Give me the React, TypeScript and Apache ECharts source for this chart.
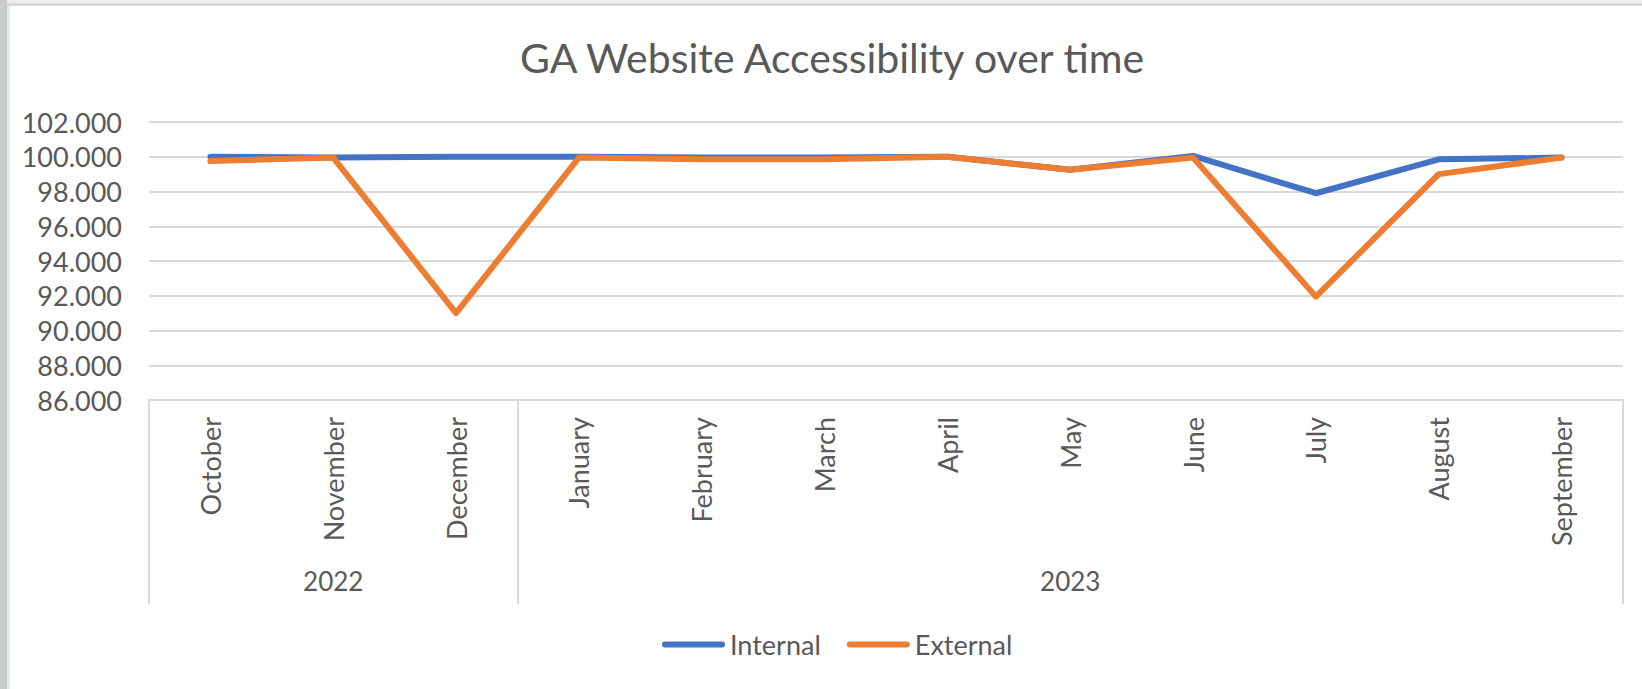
import React, { useEffect, useRef } from "react";
import * as echarts from "echarts";

const months = ["October", "November", "December", "January", "February", "March", "April", "May", "June", "July", "August", "September"];
const yearLabels = ["", "2022", "", "", "", "", "", "2023", "", "", "", ""];
const groupStartIndex = [0, 3];
const internal = [100.0, 99.95, 100.0, 100.0, 99.95, 99.95, 100.0, 99.25, 100.05, 97.9, 99.85, 99.95];
const external = [99.75, 99.95, 91.0, 99.95, 99.85, 99.85, 100.0, 99.25, 99.95, 91.95, 99.0, 99.95];
const seriesNames = ["Internal", "External"];
const titleText = "GA Website Accessibility over time";

const FONT = "Lato, 'Open Sans', sans-serif";
const TXT = "#595959";
const GRID = "#d9d9d9";

export default function App() {
  const ref = useRef<HTMLDivElement>(null);
  useEffect(() => {
    document.body.style.margin = "0";
    const chart = echarts.init(ref.current!, null, { renderer: "svg" });
    chart.setOption({
      animation: false,
      backgroundColor: "#ffffff",
      textStyle: { fontFamily: FONT },
      graphic: [
        {
          type: "text",
          x: 832,
          y: 37,
          style: {
            text: titleText,
            fontFamily: FONT,
            fontSize: 41,
            fill: TXT,
            textAlign: "center",
            textVerticalAlign: "top",
          },
        },
      ],
      grid: { left: 149, right: 19, top: 122, bottom: 289, containLabel: false },
      legend: {
        left: 657,
        top: 626,
        itemWidth: 63,
        itemHeight: 7,
        itemGap: 26,
        icon: "path://M3,0 L60,0 A3,3 0 0 1 60,6 L3,6 A3,3 0 0 1 3,0 Z",
        textStyle: { fontFamily: FONT, fontSize: 27, color: TXT },
        data: seriesNames,
      },
      xAxis: [
        {
          type: "category",
          data: months,
          boundaryGap: true,
          position: "bottom",
          axisLine: { show: true, lineStyle: { color: GRID, width: 2 } },
          axisTick: { show: false },
          axisLabel: {
            interval: 0,
            rotate: 90,
            margin: 17,
            fontFamily: FONT,
            fontSize: 27,
            color: TXT,
          },
          splitLine: { show: false },
        },
        {
          type: "category",
          data: yearLabels,
          boundaryGap: true,
          position: "bottom",
          offset: 0,
          axisLine: { show: false },
          axisTick: {
            show: true,
            interval: (i: number) => groupStartIndex.includes(i),
            length: 204,
            lineStyle: { color: GRID, width: 2 },
          },
          axisLabel: {
            interval: 0,
            margin: 168,
            fontFamily: FONT,
            fontSize: 26,
            color: TXT,
          },
          splitLine: { show: false },
        },
      ],
      yAxis: {
        type: "value",
        min: 86,
        max: 102,
        interval: 2,
        axisLine: { show: false },
        axisTick: { show: false },
        axisLabel: {
          formatter: (v: number) => v.toFixed(3),
          margin: 27,
          fontFamily: FONT,
          fontSize: 27,
          color: TXT,
        },
        splitLine: { lineStyle: { color: GRID, width: 2 } },
      },
      series: [
        {
          name: seriesNames[0],
          type: "line",
          data: internal,
          xAxisIndex: 0,
          symbol: "none",
          color: "#4472C4",
          lineStyle: { width: 6, color: "#4472C4", cap: "round", join: "round" },
        },
        {
          name: seriesNames[1],
          type: "line",
          data: external,
          xAxisIndex: 0,
          symbol: "none",
          color: "#ED7D31",
          lineStyle: { width: 6, color: "#ED7D31", cap: "round", join: "round" },
        },
      ],
    });
    return () => chart.dispose();
  }, []);
  return (
    <div style={{ position: "fixed", left: 0, top: 0, width: 1642, height: 689, background: "#fff" }}>
      <div ref={ref} style={{ position: "absolute", left: 0, top: 0, width: 1642, height: 689 }} />
      <div style={{ position: "absolute", left: 0, top: 0, width: 1642, height: 3, background: "#eeeeee" }} />
      <div style={{ position: "absolute", left: 0, top: 3, width: 1642, height: 3, background: "#d9d9d9" }} />
      <div style={{ position: "absolute", left: 0, top: 0, width: 7, height: 689, background: "#c9cdcd" }} />
      <div style={{ position: "absolute", left: 7, top: 6, width: 3, height: 683, background: "#e6e8e8" }} />
    </div>
  );
}
